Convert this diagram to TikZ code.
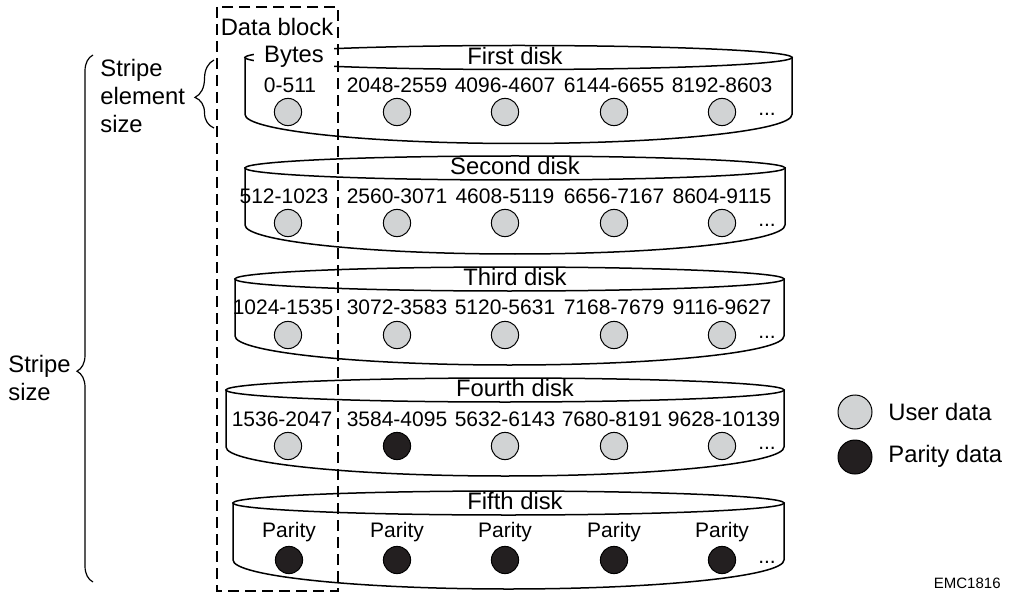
\documentclass[tikz,border=0pt]{standalone}
\usepackage{fontspec}
\setmainfont{Liberation Sans}
\usepackage{xcolor}
\usepackage{tikz}
\usetikzlibrary{decorations.pathreplacing}
\definecolor{userGray}{HTML}{D1D3D4}
\definecolor{parityBlack}{HTML}{231F20}

\begin{document}
\begin{tikzpicture}[x=0.5pt,y=-0.5pt]
\tikzstyle{disk} =[draw=black,fill=white,line width=0.75pt]
\tikzstyle{user} =[circle,draw=black,fill=userGray,line width=0.5pt,inner sep=0pt,minimum size=13.6pt]
\tikzstyle{parity} =[circle,draw=black,fill=parityBlack,line width=0.5pt,inner sep=0pt,minimum size=13.6pt]
\tikzstyle{num} =[font=\fontsize{10.5}{12}\selectfont,inner sep=0pt]
\tikzstyle{lbl} =[font=\fontsize{11.9}{14}\selectfont,inner sep=0pt]
\tikzstyle{block} =[draw=black,dash pattern=on 5.5pt off 3pt,line width=0.65pt]
\tikzstyle{brc} =[draw=black,decorate,line width=0.6pt]

\useasboundingbox (0,0) rectangle (1011,593);

% disks
\foreach \yc/\l/\r in {57.5/245/792, 168/245/785, 279/235/784, 390/226/784, 503/233/784}{
\draw[disk] (\l,\yc) -- (\l,\yc+57) arc[start angle=180,end angle=0,x radius={(\r-\l)/2},y radius=29] -- (\r,\yc) -- cycle;
\draw[disk] ({(\l+\r)/2},\yc) ellipse [x radius={(\r-\l)/2},y radius=12];
}

\node[lbl,fill=white,minimum width=40pt,minimum height=13pt](bytes) at (294,57){Bytes};
\node[lbl](d1) at (515,56){First disk};
\node[lbl](d2) at (515,166){Second disk};
\node[lbl](d3) at (515,277){Third disk};
\node[lbl](d4) at (515,388){Fourth disk};
\node[lbl](d5) at (515,501){Fifth disk};

% first disk
\node[num](n11) at (290,85){0-511};
\node[num](n12) at (397,85){2048-2559};
\node[num](n13) at (505,85){4096-4607};
\node[num](n14) at (614,85){6144-6655};
\node[num](n15) at (722,85){8192-8603};
\node[user](c11) at (288,112){};
\node[user](c12) at (397,112){};
\node[user](c13) at (505,112){};
\node[user](c14) at (614,112){};
\node[user](c15) at (722,112){};
\node[num](e1) at (767,114){...};

% second disk
\node[num](n21) at (284,196){512-1023};
\node[num](n22) at (397,196){2560-3071};
\node[num](n23) at (505,196){4608-5119};
\node[num](n24) at (614,196){6656-7167};
\node[num](n25) at (722,196){8604-9115};
\node[user](c21) at (288,223){};
\node[user](c22) at (397,223){};
\node[user](c23) at (505,223){};
\node[user](c24) at (614,223){};
\node[user](c25) at (722,223){};
\node[num](e2) at (767,225){...};

% third disk
\node[num](n31) at (283,307){1024-1535};
\node[num](n32) at (397,307){3072-3583};
\node[num](n33) at (505,307){5120-5631};
\node[num](n34) at (614,307){7168-7679};
\node[num](n35) at (722,307){9116-9627};
\node[user](c31) at (288,335){};
\node[user](c32) at (397,335){};
\node[user](c33) at (505,335){};
\node[user](c34) at (614,335){};
\node[user](c35) at (722,335){};
\node[num](e3) at (767,337){...};

% fourth disk
\node[num](n41) at (282,419){1536-2047};
\node[num](n42) at (397,419){3584-4095};
\node[num](n43) at (505,419){5632-6143};
\node[num](n44) at (612,419){7680-8191};
\node[num](n45) at (724,419){9628-10139};
\node[user](c41) at (288,446){};
\node[parity](c42) at (397,446){};
\node[user](c43) at (505,446){};
\node[user](c44) at (614,446){};
\node[user](c45) at (722,446){};
\node[num](e4) at (767,448){...};

% fifth disk
\node[num](n51) at (289,532){Parity};
\node[num](n52) at (397,532){Parity};
\node[num](n53) at (505,532){Parity};
\node[num](n54) at (614,532){Parity};
\node[num](n55) at (722,532){Parity};
\node[parity](c51) at (289,560){};
\node[parity](c52) at (397,560){};
\node[parity](c53) at (505,560){};
\node[parity](c54) at (614,560){};
\node[parity](c55) at (722,560){};
\node[num](e5) at (767,562){...};

% data block
\draw[block] (217,7) rectangle (338,591);
\node[lbl](blk) at (277,27){Data block};

% braces
\draw[brc,decoration={brace,amplitude=9.5pt,aspect=0.45}] (214,128) -- (214,60);
\node[lbl,align=left,anchor=west](elem) at (100,96){Stripe\\element\\size};
\draw[brc,decoration={brace,amplitude=8pt,aspect=0.4}] (93,582) -- (93,55);
\node[lbl,align=left,anchor=west](stripe) at (8,378){Stripe\\size};

% legend
\node[user,minimum size=17pt](lu) at (855,412){};
\node[lbl,anchor=west](lut) at (888,412){User data};
\node[parity,minimum size=17pt](lp) at (855,457){};
\node[lbl,anchor=west](lpt) at (888,456){Parity data};

\node[font=\fontsize{7.5}{9}\selectfont,anchor=east,inner sep=0pt](emc) at (1001,583){EMC1816};
\end{tikzpicture}
\end{document}
